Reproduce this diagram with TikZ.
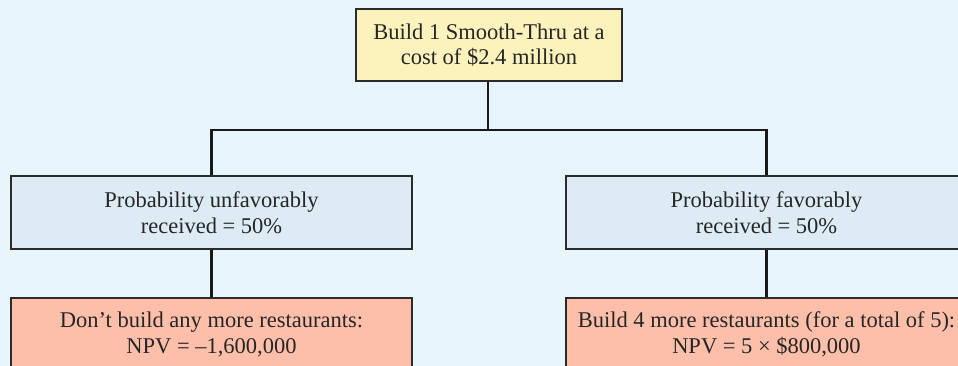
\documentclass[tikz,border=0pt]{standalone}
\usepackage{fontspec}
\setmainfont{Liberation Serif}
\definecolor{bg}{HTML}{E7F5FD}
\definecolor{topfill}{HTML}{FCF2BC}
\definecolor{midfill}{HTML}{DCEBF4}
\definecolor{botfill}{HTML}{FEBFAA}
\definecolor{edge}{HTML}{2B2B2B}
\tikzset{
  box/.style={draw=edge, line width=1.8pt, inner sep=0pt, align=center,
    font=\fontsize{22.5}{25.5}\selectfont, text=black!85},
  topbox/.style={box, fill=topfill, minimum width=266pt, minimum height=72pt},
  midbox/.style={box, fill=midfill, minimum width=401pt, minimum height=73pt},
  botbox/.style={box, fill=botfill, minimum width=401pt, minimum height=73pt},
  link/.style={draw=black!90, line width=2.6pt}
}
\begin{document}
\begin{tikzpicture}[x=1pt,y=1pt]
\useasboundingbox (0,0) rectangle (958,366);
\clip (0,0) rectangle (958,366);
\fill[bg] (0,0) rectangle (958,366);
\node[topbox] (top) at (489,321) {Build 1 Smooth-Thru at a\\cost of \$2.4 million};
\node[midbox] (lmid) at (211.5,153.5) {Probability unfavorably\\received = 50\%};
\node[midbox] (rmid) at (766.5,153.5) {Probability favorably\\received = 50\%};
\node[botbox] (lbot) at (211.5,31.5) {Don’t build any more restaurants:\\NPV = –1,600,000};
\node[botbox] (rbot) at (766.5,31.5) {Build 4 more restaurants (for a total of 5):\\NPV = 5 × \$800,000};
\coordinate (j) at (488,236);
\draw[link] (top.south -| j) -- (j);
\draw[link] (lmid.north) -- (lmid.north |- j) -- (rmid.north |- j) -- (rmid.north);
\draw[link] (lmid.south) -- (lbot.north);
\draw[link] (rmid.south) -- (rbot.north);
\end{tikzpicture}
\end{document}
